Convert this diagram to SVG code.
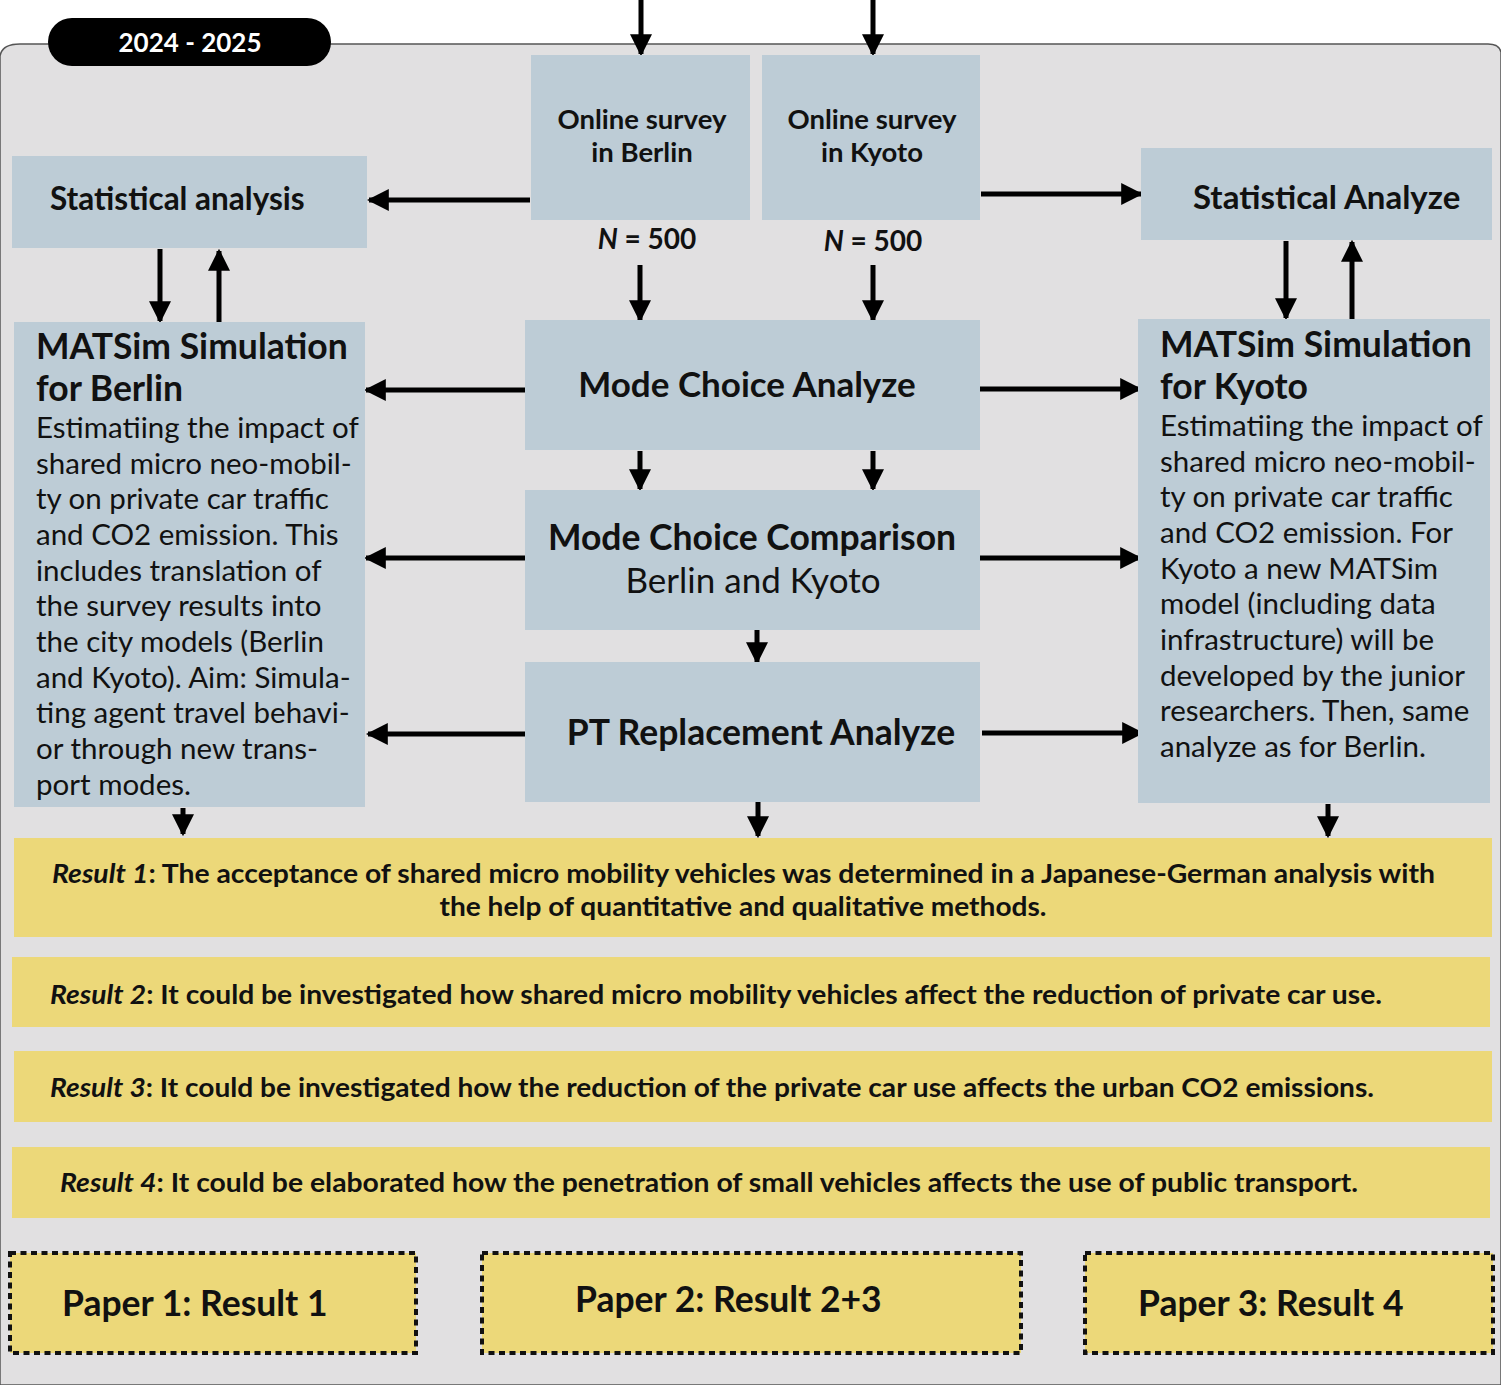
<svg xmlns="http://www.w3.org/2000/svg" width="1501" height="1385" viewBox="0 0 1501 1385">
  <style>
    .node { fill: #bdccd6; }
    .res { fill: #ecd879; }
    .paper { fill: #ecd879; stroke: #111; stroke-width: 4; stroke-dasharray: 6 4.5; }
    text { font-family: Lato, "Open Sans", "Liberation Sans", sans-serif; fill: #111; }
    .b { font-weight: bold; }
    .c { text-anchor: middle; }
    .conn line { stroke: #000; stroke-width: 5; }
  </style>
  <defs>
    <marker id="ah" viewBox="0 0 10 10" refX="9" refY="5" markerWidth="4.4" markerHeight="4.4" orient="auto" markerUnits="strokeWidth">
      <path d="M0,0 L10,5 L0,10 Z" fill="#000"/>
    </marker>
  </defs>

  <rect x="0" y="0" width="1501" height="1385" fill="#ffffff"/>
  <path d="M0,56 Q2,44 20,44 L1488,44 Q1499,44 1501,52 L1501,1385 L0,1385 Z" fill="#e1e0e1" stroke="#555" stroke-width="1.5"/>

  <g id="badge">
    <rect x="48" y="18" width="283" height="48" rx="24" fill="#000"/>
    <text x="190" y="52" class="b c" font-size="26" style="fill:#fff">2024 - 2025</text>
  </g>

  <g class="conn" id="connectors">
    <line x1="641" y1="0" x2="641" y2="54" marker-end="url(#ah)"/>
    <line x1="873" y1="0" x2="873" y2="54" marker-end="url(#ah)"/>
    <line x1="530" y1="200" x2="369" y2="200" marker-end="url(#ah)"/>
    <line x1="981" y1="194" x2="1141" y2="194" marker-end="url(#ah)"/>
    <line x1="160" y1="249" x2="160" y2="321" marker-end="url(#ah)"/>
    <line x1="219" y1="322" x2="219" y2="251" marker-end="url(#ah)"/>
    <line x1="1286" y1="241" x2="1286" y2="318" marker-end="url(#ah)"/>
    <line x1="1352" y1="319" x2="1352" y2="242" marker-end="url(#ah)"/>
    <line x1="640" y1="265" x2="640" y2="320" marker-end="url(#ah)"/>
    <line x1="873" y1="265" x2="873" y2="320" marker-end="url(#ah)"/>
    <line x1="526" y1="390" x2="366" y2="390" marker-end="url(#ah)"/>
    <line x1="980" y1="389" x2="1140" y2="389" marker-end="url(#ah)"/>
    <line x1="640" y1="451" x2="640" y2="489" marker-end="url(#ah)"/>
    <line x1="873" y1="451" x2="873" y2="489" marker-end="url(#ah)"/>
    <line x1="526" y1="558" x2="366" y2="558" marker-end="url(#ah)"/>
    <line x1="980" y1="558" x2="1140" y2="558" marker-end="url(#ah)"/>
    <line x1="757" y1="630" x2="757" y2="662" marker-end="url(#ah)"/>
    <line x1="528" y1="734" x2="368" y2="734" marker-end="url(#ah)"/>
    <line x1="982" y1="733" x2="1142" y2="733" marker-end="url(#ah)"/>
    <line x1="183" y1="808" x2="183" y2="834" marker-end="url(#ah)"/>
    <line x1="758" y1="802" x2="758" y2="836" marker-end="url(#ah)"/>
    <line x1="1328" y1="804" x2="1328" y2="836" marker-end="url(#ah)"/>
  </g>

  <g id="survey-berlin">
    <rect class="node" x="531" y="55" width="219" height="165"/>
    <text x="642" y="129" class="b c" font-size="27.5">Online survey</text>
    <text x="642" y="162" class="b c" font-size="27.5">in Berlin</text>
  </g>
  <g id="survey-kyoto">
    <rect class="node" x="762" y="55" width="218" height="165"/>
    <text x="872" y="129" class="b c" font-size="27.5">Online survey</text>
    <text x="872" y="162" class="b c" font-size="27.5">in Kyoto</text>
  </g>
  <g id="n-berlin">
    <text x="647" y="249" class="b c" font-size="28"><tspan font-style="italic">N</tspan> = 500</text>
  </g>
  <g id="n-kyoto">
    <text x="873" y="251" class="b c" font-size="28"><tspan font-style="italic">N</tspan> = 500</text>
  </g>

  <g id="stat-berlin">
    <rect class="node" x="12" y="156" width="355" height="92"/>
    <text x="50" y="210" class="b" font-size="31.5">Statistical analysis</text>
  </g>
  <g id="stat-kyoto">
    <rect class="node" x="1141" y="148" width="351" height="92"/>
    <text x="1193" y="209" class="b" font-size="33">Statistical Analyze</text>
  </g>

  <g id="matsim-berlin">
    <rect class="node" x="14" y="322" width="351" height="485"/>
    <text x="36" y="359" class="b" font-size="35.5">MATSim Simulation</text>
    <text x="36" y="401" class="b" font-size="35.5">for Berlin</text>
    <text font-size="29.5">
      <tspan x="36" y="438">Estimatiing the impact of</tspan>
      <tspan x="36" y="474">shared micro neo-mobil-</tspan>
      <tspan x="36" y="509">ty on private car traffic</tspan>
      <tspan x="36" y="545">and CO2 emission. This</tspan>
      <tspan x="36" y="581">includes translation of</tspan>
      <tspan x="36" y="616">the survey results into</tspan>
      <tspan x="36" y="652">the city models (Berlin</tspan>
      <tspan x="36" y="688">and Kyoto). Aim: Simula-</tspan>
      <tspan x="36" y="723">ting agent travel behavi-</tspan>
      <tspan x="36" y="759">or through new trans-</tspan>
      <tspan x="36" y="795">port modes.</tspan>
    </text>
  </g>

  <g id="matsim-kyoto">
    <rect class="node" x="1138" y="319" width="352" height="484"/>
    <text x="1160" y="357" class="b" font-size="35.5">MATSim Simulation</text>
    <text x="1160" y="399" class="b" font-size="35.5">for Kyoto</text>
    <text font-size="29.5">
      <tspan x="1160" y="436">Estimatiing the impact of</tspan>
      <tspan x="1160" y="472">shared micro neo-mobil-</tspan>
      <tspan x="1160" y="507">ty on private car traffic</tspan>
      <tspan x="1160" y="543">and CO2 emission. For</tspan>
      <tspan x="1160" y="579">Kyoto a new MATSim</tspan>
      <tspan x="1160" y="614">model (including data</tspan>
      <tspan x="1160" y="650">infrastructure) will be</tspan>
      <tspan x="1160" y="686">developed by the junior</tspan>
      <tspan x="1160" y="721">researchers. Then, same</tspan>
      <tspan x="1160" y="757">analyze as for Berlin.</tspan>
    </text>
  </g>

  <g id="mode-choice-analyze">
    <rect class="node" x="525" y="320" width="455" height="130"/>
    <text x="747" y="397" class="b c" font-size="35">Mode Choice Analyze</text>
  </g>
  <g id="mode-choice-comparison">
    <rect class="node" x="525" y="490" width="455" height="140"/>
    <text x="752" y="550" class="b c" font-size="35.5">Mode Choice Comparison</text>
    <text x="753" y="593" class="c" font-size="35">Berlin and Kyoto</text>
  </g>
  <g id="pt-replacement">
    <rect class="node" x="525" y="662" width="455" height="140"/>
    <text x="761" y="745" class="b c" font-size="35.5">PT Replacement Analyze</text>
  </g>

  <g id="result1">
    <rect class="res" x="14" y="838" width="1478" height="99"/>
    <text x="52" y="883" class="b" font-size="27" textLength="1383" lengthAdjust="spacingAndGlyphs"><tspan font-style="italic">Result 1</tspan>: The acceptance of shared micro mobility vehicles was determined in a Japanese-German analysis with</text>
    <text x="743" y="916" class="b c" font-size="27" textLength="607" lengthAdjust="spacingAndGlyphs">the help of quantitative and qualitative methods.</text>
  </g>
  <g id="result2">
    <rect class="res" x="12" y="957" width="1478" height="70"/>
    <text x="50" y="1004" class="b" font-size="26" textLength="1332" lengthAdjust="spacingAndGlyphs"><tspan font-style="italic">Result 2</tspan>: It could be investigated how shared micro mobility vehicles affect the reduction of private car use.</text>
  </g>
  <g id="result3">
    <rect class="res" x="14" y="1051" width="1478" height="71"/>
    <text x="50" y="1097" class="b" font-size="26" textLength="1324" lengthAdjust="spacingAndGlyphs"><tspan font-style="italic">Result 3</tspan>: It could be investigated how the reduction of the private car use affects the urban CO2 emissions.</text>
  </g>
  <g id="result4">
    <rect class="res" x="12" y="1147" width="1478" height="71"/>
    <text x="60" y="1192" class="b" font-size="26" textLength="1298" lengthAdjust="spacingAndGlyphs"><tspan font-style="italic">Result 4</tspan>: It could be elaborated how the penetration of small vehicles affects the use of public transport.</text>
  </g>

  <g id="paper1">
    <rect class="paper" x="10" y="1253" width="406" height="100"/>
    <text x="62" y="1316" class="b" font-size="35.5">Paper 1: Result 1</text>
  </g>
  <g id="paper2">
    <rect class="paper" x="482" y="1253" width="539" height="100"/>
    <text x="575" y="1312" class="b" font-size="35.5">Paper 2: Result 2+3</text>
  </g>
  <g id="paper3">
    <rect class="paper" x="1085" y="1253" width="408" height="100"/>
    <text x="1138" y="1316" class="b" font-size="35.5">Paper 3: Result 4</text>
  </g>
</svg>
